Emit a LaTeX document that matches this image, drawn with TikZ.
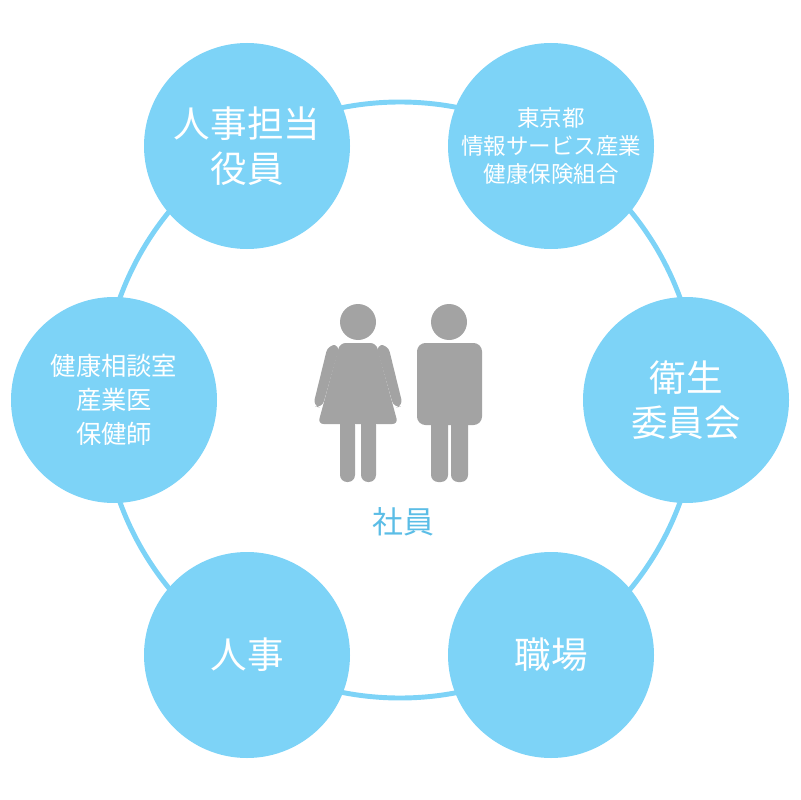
\documentclass[tikz,border=0pt]{standalone}
\usepackage{fontspec}
\setmainfont{Noto Sans CJK JP}
\definecolor{bl}{HTML}{7DD3F7}
\definecolor{pg}{HTML}{A3A3A3}
\definecolor{lb}{HTML}{5BBDE6}
\begin{document}
\begin{tikzpicture}[x=0.025cm,y=-0.025cm,
  blob/.style={circle,fill=bl,minimum size=206*0.025cm,inner sep=0,text=white,align=center}]
\useasboundingbox (0,0) rectangle (800,800);
\draw[bl,line width=3.5pt] (400,400) circle (298);
\node[blob,font=\fontsize{26}{32}\selectfont] (a) at (247,146) {人事担当\\役員};
\node[blob,font=\fontsize{16}{20}\selectfont] (b) at (551,146) {東京都\\情報サービス産業\\健康保険組合};
\node[blob,font=\fontsize{26}{32}\selectfont] (c) at (686,400) {衛生\\委員会};
\node[blob,font=\fontsize{26}{32}\selectfont] (d) at (551,655) {職場};
\node[blob,font=\fontsize{26}{32}\selectfont] (e) at (247,655) {人事};
\node[blob,font=\fontsize{18}{24}\selectfont] (f) at (114,400) {健康相談室\\産業医\\保健師};
% female
\fill[pg] (358,322) circle (18);
\fill[pg,rounded corners=4] (340,343) -- (376,343) -- (398,424) -- (318,424) -- cycle;
\fill[pg,rounded corners=5] (328,345) -- (340,345) -- (322,408) -- (313,406) -- cycle;
\fill[pg,rounded corners=5] (376,345) -- (388,345) -- (403,406) -- (394,408) -- cycle;
\fill[pg,rounded corners=5] (340,418) rectangle (355,482);
\fill[pg,rounded corners=5] (361,418) rectangle (376,482);
% male
\fill[pg] (449,322) circle (18);
\fill[pg,rounded corners=6] (417,343) rectangle (482,425);
\fill[pg,rounded corners=5] (431,400) rectangle (448,482);
\fill[pg,rounded corners=5] (451,400) rectangle (468,482);
\node[text=lb,font=\fontsize{22}{26}\selectfont] (s) at (403,522) {社員};
\end{tikzpicture}
\end{document}
